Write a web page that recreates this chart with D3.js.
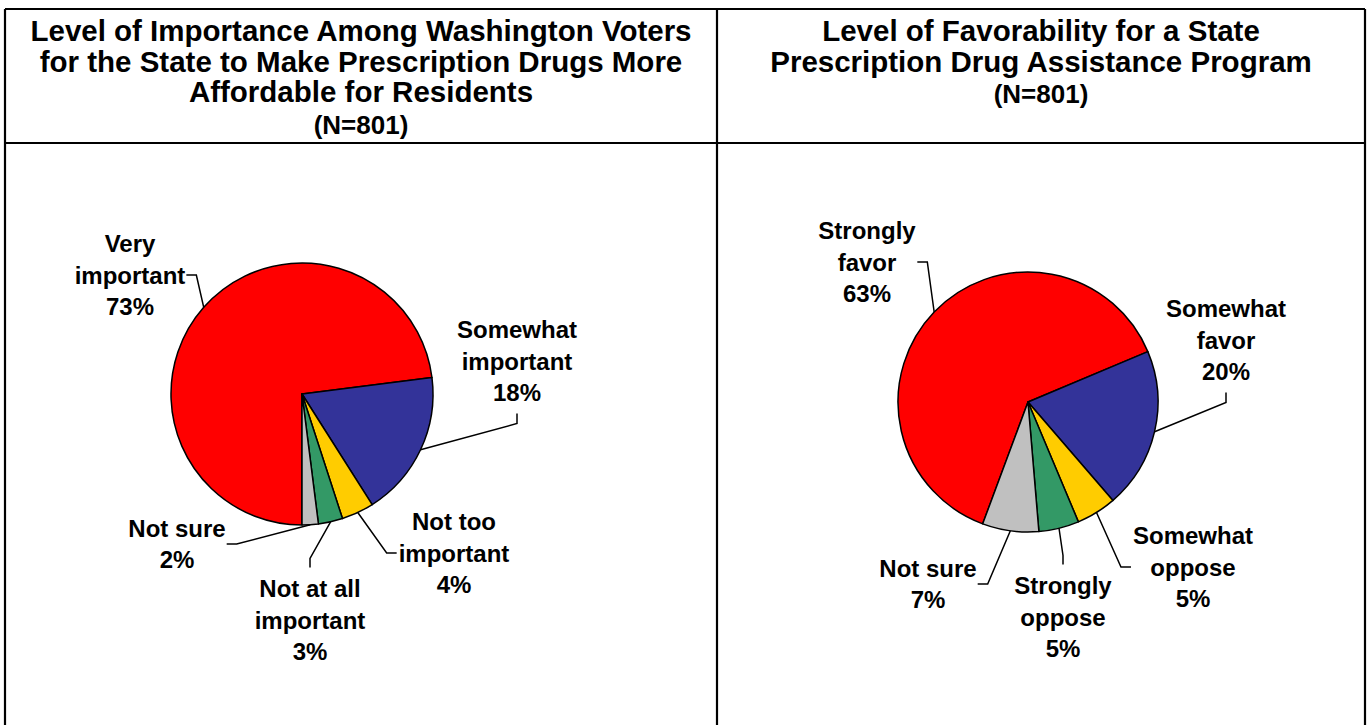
<!DOCTYPE html>
<html>
<head>
<meta charset="utf-8">
<script src="https://cdn.jsdelivr.net/npm/d3@7"></script>
<style>
    body { margin: 0; background: #fff; }
    text { font-family: 'Liberation Sans', Arial, sans-serif; font-weight: bold; fill: #000; }
</style>
</head>
<body>
<svg id="chart-svg" width="1371" height="725"></svg>
<script>
// Data
const importanceCategories = ['Very important', 'Somewhat important', 'Not too important', 'Not at all important', 'Not sure'];
const importanceValues = [73, 18, 4, 3, 2];

const favorCategories = ['Strongly favor', 'Somewhat favor', 'Somewhat oppose', 'Strongly oppose', 'Not sure'];
const favorValues = [63, 20, 5, 5, 7];

const sliceColors = ['#ff0000', '#333399', '#ffcc00', '#339966', '#c0c0c0'];

const width = 1371, height = 725;
const table = { left: 5, right: 1365, mid: 717, top: 9, header: 143 };

const svg = d3.select('#chart-svg');

// Table grid around the two charts
const grid = svg.append('g').attr('stroke', '#000').attr('stroke-width', 2.2);
grid.append('line').attr('x1', table.left).attr('x2', table.right).attr('y1', table.top).attr('y2', table.top);
grid.append('line').attr('x1', table.left).attr('x2', table.right).attr('y1', table.header).attr('y2', table.header);
[table.left, table.mid, table.right].forEach(x => {
    grid.append('line').attr('x1', x).attr('x2', x).attr('y1', table.top).attr('y2', height);
});

function drawTitle(cx, lines, nY) {
    const g = svg.append('g');
    lines.forEach((t, i) => {
        g.append('text')
            .attr('x', cx)
            .attr('y', 41 + i * 30.5)
            .attr('text-anchor', 'middle')
            .style('font-size', '29.5px')
            .text(t);
    });
    g.append('text')
        .attr('x', cx)
        .attr('y', nY)
        .attr('text-anchor', 'middle')
        .style('font-size', '26px')
        .text('(N=801)');
}

drawTitle((table.left + table.mid) / 2,
    ['Level of Importance Among Washington Voters', 'for the State to Make Prescription Drugs More', 'Affordable for Residents'], 134);
drawTitle((table.mid + table.right) / 2,
    ['Level of Favorability for a State', 'Prescription Drug Assistance Program'], 103);

// Draw one pie with Excel style data labels and leader lines
function drawPie(opts) {
    const { cx, cy, r, startDeg, categories, values, labels } = opts;
    const rows = categories.map((c, i) => ({ category: c, value: values[i], color: sliceColors[i] }));

    const pie = d3.pie()
        .sort(null)
        .value(d => d.value)
        .startAngle(startDeg * Math.PI / 180)
        .endAngle((startDeg + 360) * Math.PI / 180);
    const arcs = pie(rows);

    const arc = d3.arc().innerRadius(0).outerRadius(r);
    const edge = d3.arc().innerRadius(r).outerRadius(r);

    const g = svg.append('g').attr('transform', `translate(${cx},${cy})`);

    g.selectAll('path')
        .data(arcs)
        .enter()
        .append('path')
        .attr('d', arc)
        .attr('fill', d => d.data.color)
        .attr('stroke', '#000')
        .attr('stroke-width', 1.5)
        .attr('stroke-linejoin', 'round');

    const lineGap = 31.5;

    arcs.forEach((d, i) => {
        const pos = labels[i];
        const lines = pos.lines.concat([`${d.data.value}%`]);
        const lx = pos.x - cx, ly = pos.y - cy;
        const first = ly - (lines.length - 1) / 2 * lineGap;

        const label = g.append('text')
            .attr('text-anchor', 'middle')
            .style('font-size', '24px');
        lines.forEach((t, j) => {
            label.append('tspan')
                .attr('x', lx)
                .attr('y', first + j * lineGap)
                .attr('dy', '0.36em')
                .text(t);
        });

        // leader line: label side -> short elbow -> slice edge
        const box = label.node().getBBox();
        const last = first + (lines.length - 1) * lineGap;
        let start, elbow;
        if (pos.side === 'right') {
            start = [box.x + box.width + 1, ly]; elbow = [start[0] + 10, ly];
        } else if (pos.side === 'left') {
            start = [box.x - 2, ly]; elbow = [start[0] - 10, ly];
        } else if (pos.side === 'bottom') {
            start = [lx, last + 21]; elbow = [lx, last + 31];
        } else {
            start = [lx, first - 21]; elbow = [lx, first - 30];
        }
        const end = edge.centroid(d);

        g.append('path')
            .attr('d', d3.line()([start, elbow, end]))
            .attr('fill', 'none')
            .attr('stroke', '#000')
            .attr('stroke-width', 1.5);
    });
}

drawPie({
    cx: 302, cy: 394, r: 131, startDeg: 180,
    categories: importanceCategories, values: importanceValues,
    labels: [
        { lines: ['Very', 'important'], x: 130, y: 275, side: 'right' },
        { lines: ['Somewhat', 'important'], x: 517, y: 361, side: 'bottom' },
        { lines: ['Not too', 'important'], x: 454, y: 553, side: 'left' },
        { lines: ['Not at all', 'important'], x: 310, y: 620, side: 'top' },
        { lines: ['Not sure'], x: 177, y: 544, side: 'right' }
    ]
});

drawPie({
    cx: 1028, cy: 402, r: 130, startDeg: 200.4,
    categories: favorCategories, values: favorValues,
    labels: [
        { lines: ['Strongly', 'favor'], x: 867, y: 262, side: 'right' },
        { lines: ['Somewhat', 'favor'], x: 1226, y: 340, side: 'bottom' },
        { lines: ['Somewhat', 'oppose'], x: 1193, y: 567, side: 'left' },
        { lines: ['Strongly', 'oppose'], x: 1063, y: 617, side: 'top' },
        { lines: ['Not sure'], x: 928, y: 584, side: 'right' }
    ]
});
</script>
</body>
</html>
